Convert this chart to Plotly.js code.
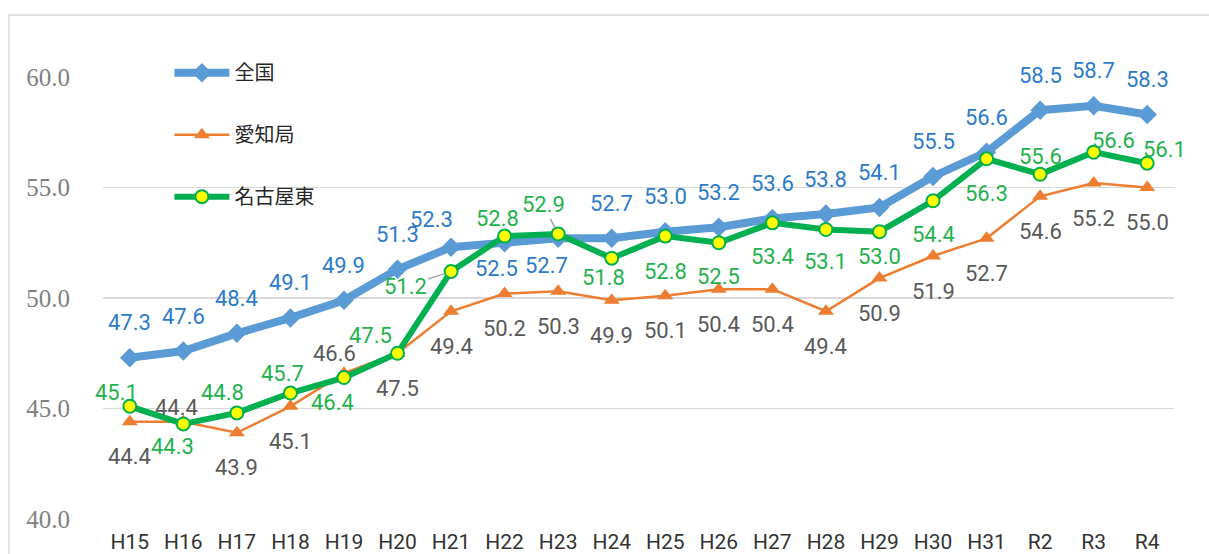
<!DOCTYPE html>
<html><head><meta charset="utf-8">
<script src="https://cdn.plot.ly/plotly-3.0.1.min.js"></script>
<style>
html,body{margin:0;padding:0;background:#fff;overflow:hidden;}
#chart{width:1209px;height:554px;position:absolute;left:0;top:0;}
#frame{position:absolute;left:8px;top:14px;width:1400px;height:800px;border-left:2px solid #E3E3E3;border-top:2px solid #E3E3E3;pointer-events:none;}
</style></head><body>
<div id="chart"></div><div id="frame"></div>
<script>
// ---- data ----
const years = ['H15','H16','H17','H18','H19','H20','H21','H22','H23','H24','H25','H26','H27','H28','H29','H30','H31','R2','R3','R4'];
const zenkoku = [47.3,47.6,48.4,49.1,49.9,51.3,52.3,52.5,52.7,52.7,53.0,53.2,53.6,53.8,54.1,55.5,56.6,58.5,58.7,58.3];
const aichi = [44.4,44.4,43.9,45.1,46.6,47.5,49.4,50.2,50.3,49.9,50.1,50.4,50.4,49.4,50.9,51.9,52.7,54.6,55.2,55.0];
const nagoyaHigashi = [45.1,44.3,44.8,45.7,46.4,47.5,51.2,52.8,52.9,51.8,52.8,52.5,53.4,53.1,53.0,54.4,56.3,55.6,56.6,56.1];
const seriesNames = ['全国','愛知局','名古屋東'];
const yTickVals = [40,45,50,55,60];
const yTickText = ['40.0','45.0','50.0','55.0','60.0'];

// ---- label placement (pixel offsets dx, dy; dy positive = down) ----
const zenkokuOff = years.map(()=>[0,-35]);
zenkokuOff[6]=[-20,-28]; zenkokuOff[7]=[-8,26]; zenkokuOff[8]=[-12,27];
const aichiOff = years.map(()=>[0,35]);
aichiOff[1]=[-7,-14]; aichiOff[4]=[-9,-20];
const nagoyaOff = [[-13,-14],[-11,23],[-14,-20],[-8,-20],[-11,25],[-27,-18],[-46,15],[-7,-18],[-15,-29],[-8,19],
  [0,35],[0,34],[0,34],[0,32],[0,25],[0,34],[0,35],[0,-18],[20,-12],[17,-14]];
const nagoyaLeader = [6,8];

const colBlue='#5B9BD5', colOrange='#ED7D31', colGreen='#00B050';
const txtBlue='#2B7BCB', txtGray='#595959', txtGreen='#22B24C';
const labelFont = 'Roboto, "Noto Sans", sans-serif';

function fmt(v){return v.toFixed(1);}
function makeAnn(vals, off, color, leaders){
  return vals.map((v,i)=>{
    const lead = leaders && leaders.indexOf(i)>=0;
    const a = {x: years[i], y: v, xref:'x', yref:'y', text: fmt(v),
      font:{family: labelFont, size:22, color: color},
      xanchor:'center', yanchor:'middle'};
    if(lead){
      Object.assign(a,{showarrow:true, ax: off[i][0], ay: off[i][1], axref:'pixel', ayref:'pixel',
        arrowhead:0, arrowwidth:1.5, arrowcolor:'#A6A6A6', standoff:7});
    } else {
      Object.assign(a,{showarrow:false, xshift: off[i][0], yshift: -off[i][1]});
    }
    return a;
  });
}

const traces = [
  {x: years, y: zenkoku, name: seriesNames[0], legendgroup:'a', type:'scatter', mode:'lines+markers',
   line:{color:colBlue, width:8}, marker:{symbol:'diamond', size:15, color:colBlue}, cliponaxis:false, hoverinfo:'skip'},
  {x: years, y: aichi, name: seriesNames[1], legendgroup:'b', type:'scatter', mode:'lines+markers',
   line:{color:colOrange, width:2.5}, marker:{symbol:'triangle-up', size:14, color:colOrange}, cliponaxis:false, hoverinfo:'skip'},
  {x: years, y: nagoyaHigashi, name: seriesNames[2], legendgroup:'c', type:'scatter', mode:'lines+markers',
   line:{color:colGreen, width:6}, marker:{symbol:'circle', size:13, color:'#FFFF00', line:{color:colGreen, width:2}}, cliponaxis:false, hoverinfo:'skip'}
];

const layout = {
  width:1209, height:554,
  margin:{l:103, r:35, t:77, b:35},
  paper_bgcolor:'#fff', plot_bgcolor:'#fff',
  showlegend:true,
  legend:{x:0.062, y:1.054, xanchor:'left', yanchor:'top', orientation:'v', traceorder:'grouped',
    tracegroupgap:33, itemwidth:55, bgcolor:'rgba(0,0,0,0)',
    font:{family:'"Noto Sans CJK JP", sans-serif', size:20, color:'#262626'}},
  xaxis:{type:'category', range:[-0.5,19.5], showgrid:false, zeroline:false, showline:false,
    ticks:'outside', ticklen:4, tickcolor:'rgba(0,0,0,0)',
    tickfont:{family: labelFont, size:21, color:'#333333'}, fixedrange:true},
  yaxis:{range:[40,60], tickvals:yTickVals, ticktext:yTickText, showgrid:true, gridcolor:'#D9D9D9', gridwidth:1.5,
    zeroline:false, showline:false, ticks:'outside', ticklen:27, tickcolor:'rgba(0,0,0,0)',
    tickfont:{family:'"Liberation Serif", serif', size:25, color:'#808080'}, fixedrange:true},
  annotations: [].concat(
    makeAnn(zenkoku, zenkokuOff, txtBlue),
    makeAnn(aichi, aichiOff, txtGray),
    makeAnn(nagoyaHigashi, nagoyaOff, txtGreen, nagoyaLeader)
  )
};

Plotly.newPlot('chart', traces, layout, {displayModeBar:false, staticPlot:true});
</script>
</body></html>
